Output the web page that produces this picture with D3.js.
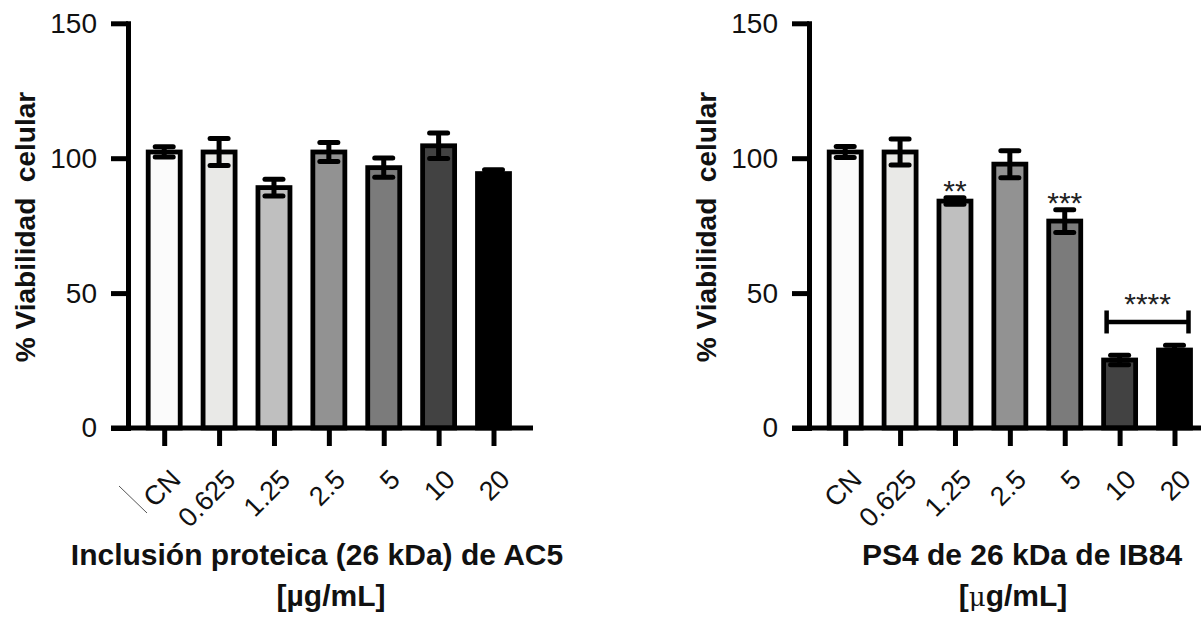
<!DOCTYPE html>
<html>
<head>
<meta charset="utf-8">
<script src="https://cdn.jsdelivr.net/npm/d3@7"></script>
<style>
  body { margin: 0; background: #fff; }
  text { font-family: "Liberation Sans", Arial, sans-serif; }
</style>
</head>
<body>
<script>
// data
var categories = ["CN", "0.625", "1.25", "2.5", "5", "10", "20"];
var barFills = ["#fbfbfb", "#e9e9e7", "#bfbfbf", "#929292", "#7b7b7b", "#424242", "#000000"];
var yTicks = [0, 50, 100, 150];

// left panel: Inclusión proteica de AC5
var acMeans  = [102.3, 102.3, 89.1, 102.3, 96.5, 104.6, 94.3];
var acErrors = [1.9, 5.0, 3.1, 3.5, 3.6, 4.7, 1.4];

// right panel: PS4 de IB84
var ibMeans  = [102.3, 102.3, 84.1, 97.8, 76.7, 25.2, 28.9];
var ibErrors = [2.0, 4.8, 1.2, 5.0, 4.2, 1.8, 1.8];
var ibStars  = ["", "", "**", "", "***", "", ""];
var ibBracket = ["10", "20"];
var ibBracketLevel = 39.3;
var ibBracketLabel = "****";

var svg = d3.select("body").append("svg")
    .attr("width", 1201)
    .attr("height", 617);

// shared scales (panel coordinates)
var y = d3.scaleLinear().domain([0, 150]).range([428, 23.3]);
var x = d3.scalePoint().domain(categories).range([164.2, 493.5]);
var barW = 32;

function drawPanel(offset, means, errors, title1, title1X, title2, title2X, micro) {
  var g = svg.append("g").attr("transform", "translate(" + offset + ",0)");

  // bars
  g.selectAll("rect.bar")
    .data(categories)
    .enter().append("rect")
      .attr("class", "bar")
      .attr("x", function(d) { return x(d) - barW / 2; })
      .attr("y", function(d, i) { return y(means[i]); })
      .attr("width", barW)
      .attr("height", function(d, i) { return y(0) - y(means[i]); })
      .attr("fill", function(d, i) { return barFills[i]; })
      .attr("stroke", "#000")
      .attr("stroke-width", 4.8);

  // error bars
  var eb = g.selectAll("g.err")
    .data(categories)
    .enter().append("g")
      .attr("class", "err")
      .attr("stroke", "#000")
      .attr("stroke-width", 5);
  eb.append("line")
    .attr("x1", function(d) { return x(d); })
    .attr("x2", function(d) { return x(d); })
    .attr("y1", function(d, i) { return y(means[i] - errors[i]); })
    .attr("y2", function(d, i) { return y(means[i] + errors[i]); });
  [1, -1].forEach(function(s) {
    eb.append("line")
      .attr("stroke-linecap", "round")
      .attr("x1", function(d) { return x(d) - 9; })
      .attr("x2", function(d) { return x(d) + 9; })
      .attr("y1", function(d, i) { return y(means[i] + s * errors[i]); })
      .attr("y2", function(d, i) { return y(means[i] + s * errors[i]); });
  });

  // y axis
  var ya = g.append("g")
    .attr("transform", "translate(128,0)")
    .call(d3.axisLeft(y).tickValues(yTicks).tickSize(17).tickSizeOuter(0).tickPadding(14));
  ya.select(".domain").attr("stroke-width", 5).attr("stroke-linecap", "square");
  ya.selectAll(".tick line").attr("stroke-width", 5);
  ya.selectAll(".tick text")
    .attr("font-size", 28)
    .attr("font-family", "'Liberation Sans', Arial, sans-serif")
    .attr("fill", "#111");

  // x axis
  var xa = g.append("g")
    .attr("transform", "translate(0," + y(0) + ")")
    .call(d3.axisBottom(x).tickSize(18).tickSizeOuter(0));
  xa.select(".domain").remove();
  xa.selectAll(".tick line").attr("stroke-width", 5);
  xa.selectAll(".tick text").remove();
  g.append("line")
    .attr("x1", 111).attr("x2", 533)
    .attr("y1", y(0)).attr("y2", y(0))
    .attr("stroke", "#000").attr("stroke-width", 5);

  // rotated category labels
  g.selectAll("text.cat")
    .data(categories)
    .enter().append("text")
      .attr("class", "cat")
      .attr("transform", function(d) { return "translate(" + (x(d) + 18) + ",481) rotate(-45)"; })
      .attr("text-anchor", "end")
      .attr("font-size", 27)
      .attr("fill", "#111")
      .text(function(d) { return d; });

  // y title
  g.append("text")
    .attr("transform", "translate(35,227) rotate(-90)")
    .attr("text-anchor", "middle")
    .attr("font-size", 28)
    .attr("font-weight", "bold")
    .attr("fill", "#111")
    .style("white-space", "pre")
    .text("% Viabilidad  celular");

  // x title
  g.append("text")
    .attr("x", title1X).attr("y", 565)
    .attr("text-anchor", "middle")
    .attr("font-size", 30)
    .attr("font-weight", "bold")
    .attr("fill", "#111")
    .text(title1);
  var t2 = g.append("text")
    .attr("x", title2X).attr("y", 606)
    .attr("text-anchor", "middle")
    .attr("font-size", 30)
    .attr("font-weight", "bold")
    .attr("fill", "#111");
  t2.append("tspan").text("[");
  t2.append("tspan")
    .attr("font-weight", micro === "\u03bc" ? "normal" : "bold")
    .attr("font-family", micro === "\u03bc" ? "'DejaVu Serif', serif" : null)
    .attr("font-size", micro === "\u03bc" ? 26 : 30)
    .text(micro);
  t2.append("tspan").text(title2);

  return g;
}

drawPanel(0, acMeans, acErrors,
  "Inclusión proteica (26 kDa) de AC5", 317, "g/mL]", 331, "\u00b5");

// stray stroke next to the CN label in the left panel
svg.append("line")
  .attr("x1", 119).attr("y1", 486).attr("x2", 147).attr("y2", 513)
  .attr("stroke", "#555").attr("stroke-width", 1);

var right = drawPanel(681, ibMeans, ibErrors,
  "PS4 de 26 kDa de IB84", 1022 - 681, "g/mL]", 1013 - 681, "\u03bc");

// significance stars
right.selectAll("text.star")
  .data(categories.filter(function(d, i) { return ibStars[i] !== ""; }))
  .enter().append("text")
    .attr("class", "star")
    .attr("x", function(d) { return x(d); })
    .attr("y", function(d) { var i = categories.indexOf(d); return y(ibMeans[i] + ibErrors[i]) + 3; })
    .attr("text-anchor", "middle")
    .attr("font-size", 30)
    .attr("fill", "#222")
    .text(function(d) { return ibStars[categories.indexOf(d)]; });

// bracket over 10 and 20
var bx1 = x(ibBracket[0]) - 13, bx2 = x(ibBracket[1]) + 14, by = y(ibBracketLevel);
var br = right.append("g").attr("stroke", "#000").attr("stroke-width", 4.5);
br.append("line").attr("x1", bx1).attr("x2", bx2).attr("y1", by).attr("y2", by);
br.append("line").attr("x1", bx1).attr("x2", bx1).attr("y1", by - 11.5).attr("y2", by + 11.5);
br.append("line").attr("x1", bx2).attr("x2", bx2).attr("y1", by - 11.5).attr("y2", by + 11.5);
right.append("text")
  .attr("x", (bx1 + bx2) / 2)
  .attr("y", by - 8)
  .attr("text-anchor", "middle")
  .attr("font-size", 30)
  .attr("fill", "#222")
  .text(ibBracketLabel);
</script>
</body>
</html>
